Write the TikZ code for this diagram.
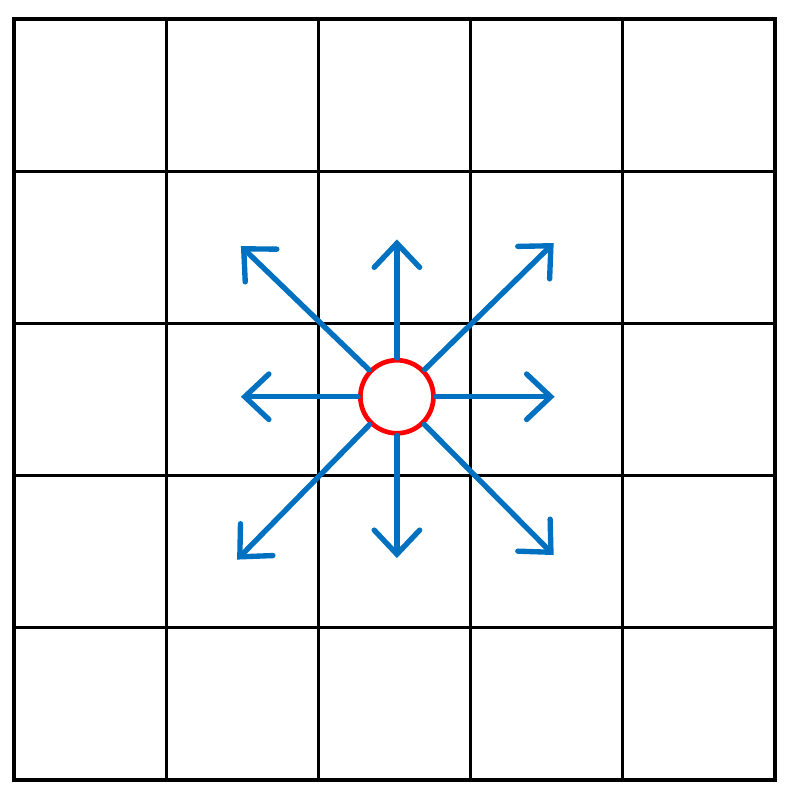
\documentclass[tikz,border=0pt]{standalone}
\usetikzlibrary{arrows.meta}
\definecolor{arrowblue}{RGB}{0,112,192}

\begin{document}
\begin{tikzpicture}[x=2cm,y=2cm,
  gridline/.style={line width=1.2pt},
  centre/.style={circle,draw=red,fill=white,line width=1.75pt,minimum size=0.96cm,inner sep=0pt},
  spread/.style={arrowblue,line width=2pt,line cap=round,-{Straight Barb[length=9pt,width=17pt,line cap=round]}}]

\useasboundingbox (-0.092,-0.125) rectangle (5.105,5.125);

% the 5x5 board
\draw [gridline,step=2cm] (0,0) grid (5,5);
\draw [gridline] (0,0) rectangle (5,5);

% the cell in the middle and its eight neighbours
\node [centre] (src) at (2.516,2.518) {};
\foreach \dx/\dy [count=\i] in {0/1.034, 1.03/1.01, 1.036/0, 1.03/-1.04, 0/-1.06, -1.05/-1.07, -1.025/0, -1.025/0.99}
{
  \coordinate (tip\i) at ([shift={(\dx,\dy)}]src.center);
  \draw [spread] (src) -- (tip\i);
}

\end{tikzpicture}
\end{document}
